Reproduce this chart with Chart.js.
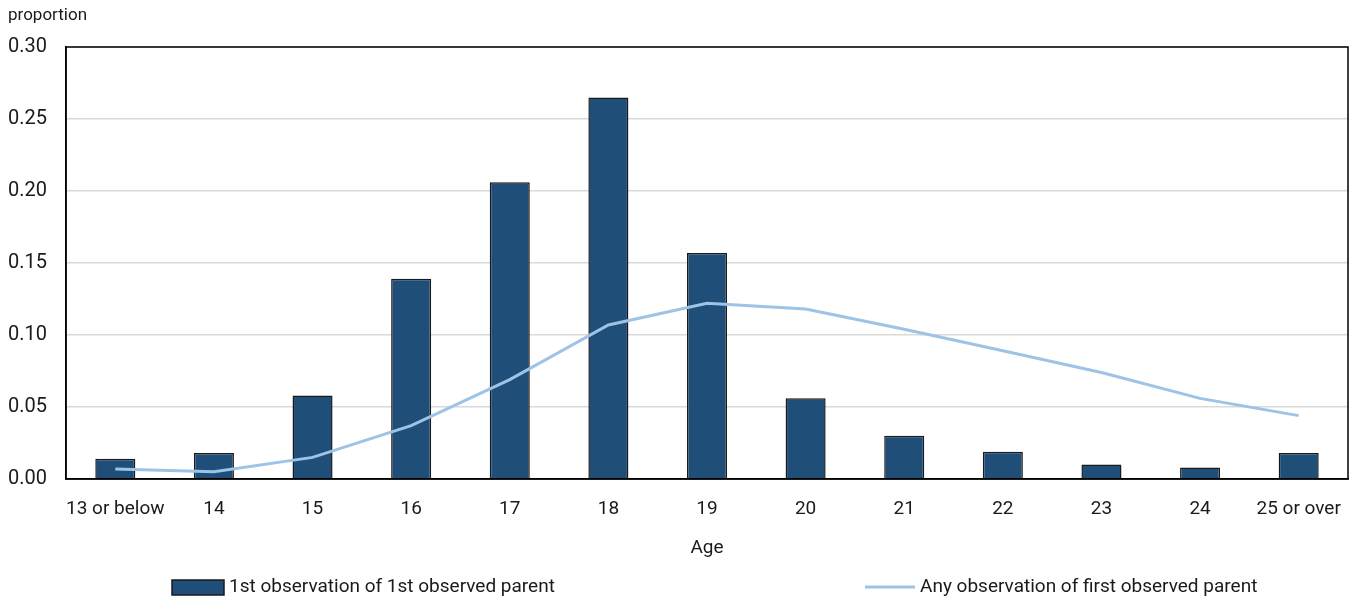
<!DOCTYPE html>
<html>
<head>
<meta charset="utf-8">
<style>
  html, body { margin: 0; padding: 0; background: #ffffff; }
  #wrap { width: 1354px; height: 603px; position: relative; }
</style>
<script src="https://cdn.jsdelivr.net/npm/chart.js@4/dist/chart.umd.min.js"></script>
</head>
<body>
<div id="wrap"><canvas id="chart" width="1354" height="603"></canvas></div>
<script>
// Age groups along the horizontal axis
const ageLabels = ['13 or below', '14', '15', '16', '17', '18', '19', '20', '21', '22', '23', '24', '25 or over'];

// Proportion at the first observation of the first observed parent (bars)
const firstObservation = [0.014, 0.018, 0.058, 0.139, 0.206, 0.265, 0.157, 0.056, 0.030, 0.019, 0.010, 0.008, 0.018];

// Proportion over any observation of the first observed parent (line)
const anyObservation = [0.007, 0.005, 0.015, 0.037, 0.069, 0.107, 0.122, 0.118, 0.104, 0.089, 0.074, 0.056, 0.044];

// Vertical axis ticks
const yTicks = [0, 0.05, 0.10, 0.15, 0.20, 0.25, 0.30];

const barName = '1st observation of 1st observed parent';
const lineName = 'Any observation of first observed parent';
const FONT = 'Roboto, "Liberation Sans", sans-serif';
const TEXT = '#1a1a1a';

// Frame around the plot area, axis captions and the legend row
const decorations = {
  id: 'decorations',
  afterDraw(chart) {
    const { ctx, chartArea: a } = chart;
    ctx.save();
    ctx.strokeStyle = '#000000';
    ctx.lineWidth = 1.5;
    ctx.strokeRect(a.left, a.top, a.right - a.left, a.bottom - a.top);

    ctx.fillStyle = TEXT;
    ctx.font = '17px ' + FONT;
    ctx.textBaseline = 'middle';
    ctx.textAlign = 'left';
    ctx.fillText('proportion', 8, 16);

    ctx.font = '19px ' + FONT;
    ctx.textAlign = 'center';
    ctx.fillText('Age', (a.left + a.right) / 2, 548);

    // legend
    const ly = 587;
    const bar = chart.data.datasets[1];
    const line = chart.data.datasets[0];
    ctx.fillStyle = bar.backgroundColor;
    ctx.fillRect(172, ly - 7, 52, 15);
    ctx.strokeStyle = bar.borderColor;
    ctx.lineWidth = 1.5;
    ctx.strokeRect(172, ly - 7, 52, 15);
    ctx.fillStyle = TEXT;
    ctx.textAlign = 'left';
    ctx.fillText(bar.label, 229, ly);

    ctx.strokeStyle = line.borderColor;
    ctx.lineWidth = 3;
    ctx.beginPath();
    ctx.moveTo(865, ly);
    ctx.lineTo(915, ly);
    ctx.stroke();
    ctx.fillText(line.label, 920, ly);
    ctx.restore();
  }
};

new Chart(document.getElementById('chart'), {
  data: {
    labels: ageLabels,
    datasets: [
      {
        type: 'line',
        label: lineName,
        data: anyObservation,
        borderColor: '#9DC3E6',
        borderWidth: 3,
        pointRadius: 0,
        tension: 0,
        order: 0
      },
      {
        type: 'bar',
        label: barName,
        data: firstObservation,
        backgroundColor: '#1F4E79',
        borderColor: '#1a1a1a',
        borderWidth: 1.5,
        barPercentage: 0.406,
        categoryPercentage: 1.0,
        order: 1
      }
    ]
  },
  options: {
    responsive: false,
    animation: false,
    devicePixelRatio: 1,
    layout: { padding: { top: 47, right: 6, left: 0, bottom: 0 } },
    plugins: {
      legend: { display: false },
      tooltip: { enabled: false }
    },
    scales: {
      x: {
        grid: { display: false, drawTicks: false },
        border: { display: true, color: '#000000', width: 1.5 },
        ticks: {
          color: TEXT,
          font: { family: FONT, size: 19 },
          padding: 19,
          maxRotation: 0,
          autoSkip: false
        },
        afterFit(scale) {
          scale.height = 124;
          scale.paddingLeft = 0;
          scale.paddingRight = 0;
        }
      },
      y: {
        min: 0,
        max: 0.30,
        afterBuildTicks(scale) { scale.ticks = yTicks.map(v => ({ value: v })); },
        grid: { color: '#d9d9d9', lineWidth: 1.5, drawTicks: false },
        border: { display: true, color: '#000000', width: 1.5 },
        ticks: {
          color: TEXT,
          font: { family: FONT, size: 20 },
          padding: 19,
          callback: v => Number(v).toFixed(2)
        },
        afterFit(scale) { scale.width = 66; }
      }
    }
  },
  plugins: [decorations]
});
</script>
</body>
</html>
